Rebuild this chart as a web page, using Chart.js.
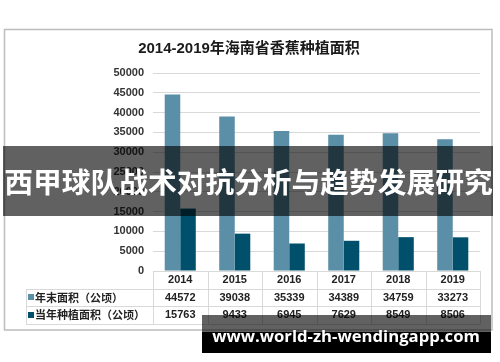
<!DOCTYPE html>
<html><head><meta charset="utf-8">
<script src="https://cdn.jsdelivr.net/npm/chart.js@4.4.1/dist/chart.umd.min.js"></script>
<style>
html,body{margin:0;padding:0;background:#fff;}
#wrap{position:relative;width:500px;height:362px;}
canvas{display:block;}
</style></head>
<body><div id="wrap"><canvas id="c" width="500" height="362"></canvas></div>
<script>
const years = ['2014','2015','2016','2017','2018','2019'];
const yearEndArea = [44572, 39038, 35339, 34389, 34759, 33273];
const plantedArea = [15763, 9433, 6945, 7629, 8549, 8506];
const seriesNames = ['年末面积（公顷）', '当年种植面积（公顷）'];
const yTicks = [0, 5000, 10000, 15000, 20000, 25000, 30000, 35000, 40000, 45000, 50000];
const titleText = '2014-2019年海南省香蕉种植面积';
const bannerText = '西甲球队战术对抗分析与趋势发展研究';
const watermarkText = 'www.world-zh-wendingapp.com';

const LIGHT = '#5b8fa7';
const DARK = '#01506b';
const GRID = '#d9d9d9';
const FONT = '"Liberation Sans", "Noto Sans CJK SC", sans-serif';
const CJK = '"Noto Sans CJK SC", "Liberation Sans", sans-serif';

const decor = {
  id: 'decor',
  beforeDraw(chart) {
    const ctx = chart.ctx;
    ctx.save();
    ctx.fillStyle = '#fff';
    ctx.fillRect(0, 0, chart.width, chart.height);
    ctx.strokeStyle = '#bdbdbd';
    ctx.lineWidth = 1.5;
    ctx.strokeRect(4.5, 29.5, 487.5, 300.5);
    ctx.fillStyle = '#1a1a1a';
    ctx.font = 'bold 15px ' + FONT;
    ctx.textAlign = 'center';
    ctx.textBaseline = 'middle';
    ctx.fillText(titleText, 249, 49);
    ctx.restore();
  },
  afterDraw(chart) {
    const ctx = chart.ctx;
    const xs = chart.scales.x;
    const area = chart.chartArea;
    const n = years.length;
    const cw = (area.right - area.left) / n;
    const top = area.bottom;
    const rh = 17.5;
    const legL = 26;
    ctx.save();
    ctx.strokeStyle = GRID;
    ctx.lineWidth = 1;
    // horizontal lines
    ctx.beginPath();
    ctx.moveTo(area.left, top + 0.5); ctx.lineTo(area.right, top + 0.5);
    for (let r = 1; r <= 3; r++) {
      const y = Math.round(top + rh * r) + 0.5;
      ctx.moveTo(legL, y); ctx.lineTo(area.right, y);
    }
    // vertical lines
    for (let i = 0; i <= n; i++) {
      const x = Math.round(area.left + cw * i) + 0.5;
      ctx.moveTo(x, top); ctx.lineTo(x, Math.round(top + rh * 3) + 0.5);
    }
    ctx.moveTo(legL + 0.5, Math.round(top + rh) + 0.5);
    ctx.lineTo(legL + 0.5, Math.round(top + rh * 3) + 0.5);
    ctx.stroke();

    ctx.font = 'bold 11px ' + FONT;
    ctx.fillStyle = '#222';
    ctx.textAlign = 'center';
    ctx.textBaseline = 'middle';
    years.forEach((yv, i) => {
      const x = xs.getPixelForValue(i);
      ctx.fillText(yv, x, top + rh * 0.5 + 0.5);
      ctx.fillText(String(yearEndArea[i]), x, top + rh * 1.5 + 0.5);
      ctx.fillText(String(plantedArea[i]), x, top + rh * 2.5 + 0.5);
    });
    // legend cells
    const cols = [LIGHT, DARK];
    ctx.textAlign = 'left';
    ctx.font = 'bold 11px ' + CJK;
    seriesNames.forEach((s, k) => {
      const cy = top + rh * (1.5 + k);
      ctx.fillStyle = cols[k];
      ctx.fillRect(28, Math.round(cy - 3), 6, 6);
      ctx.fillStyle = '#222';
      ctx.fillText(s, 35, cy + 0.5);
    });

    // banner overlay
    ctx.fillStyle = 'rgba(0,0,0,0.62)';
    ctx.fillRect(3, 146, 490, 70);
    ctx.fillStyle = '#fff';
    ctx.textAlign = 'center';
    ctx.textBaseline = 'middle';
    let fs = 29;
    ctx.font = 'bold ' + fs + 'px ' + CJK;
    const bw = ctx.measureText(bannerText).width;
    fs = fs * 489 / bw;
    ctx.font = 'bold ' + fs.toFixed(2) + 'px ' + CJK;
    ctx.fillText(bannerText, 248.5, 182);

    // watermark
    ctx.fillStyle = 'rgba(0,0,0,0.62)';
    ctx.fillRect(202, 315, 289, 17);
    ctx.fillStyle = '#000';
    ctx.fillRect(202, 332, 289, 21);
    ctx.fillStyle = '#fff';
    let ws = 17;
    const WF = '"Open Sans", "DejaVu Sans", sans-serif';
    ctx.font = 'bold ' + ws + 'px ' + WF;
    const ww = ctx.measureText(watermarkText).width;
    ws = ws * 268 / ww;
    ctx.font = 'bold ' + ws.toFixed(2) + 'px ' + WF;
    ctx.fillText(watermarkText, 346, 337);
    ctx.restore();
  }
};

new Chart(document.getElementById('c'), {
  type: 'bar',
  data: {
    labels: years,
    datasets: [
      { label: seriesNames[0], data: yearEndArea, backgroundColor: LIGHT, borderWidth: 0 },
      { label: seriesNames[1], data: plantedArea, backgroundColor: DARK, borderWidth: 0 }
    ]
  },
  options: {
    responsive: false,
    animation: false,
    devicePixelRatio: 1,
    layout: { padding: { left: 0, right: 20, top: 73, bottom: 91 } },
    datasets: { bar: { categoryPercentage: 0.57, barPercentage: 1.0 } },
    plugins: { legend: { display: false }, title: { display: false }, tooltip: { enabled: false } },
    scales: {
      x: { display: false, grid: { display: false } },
      y: {
        min: 0, max: 50000,
        afterBuildTicks(scale) { scale.ticks = yTicks.map(v => ({ value: v })); },
        afterFit(scale) { scale.width = 153; },
        grid: { color: GRID, drawTicks: false, lineWidth: 1 },
        border: { display: false },
        ticks: {
          padding: 9,
          color: '#333',
          font: { family: 'Liberation Sans', weight: 'bold', size: 11 },
          callback: v => String(v)
        }
      }
    }
  },
  plugins: [decor]
});
</script></body></html>
